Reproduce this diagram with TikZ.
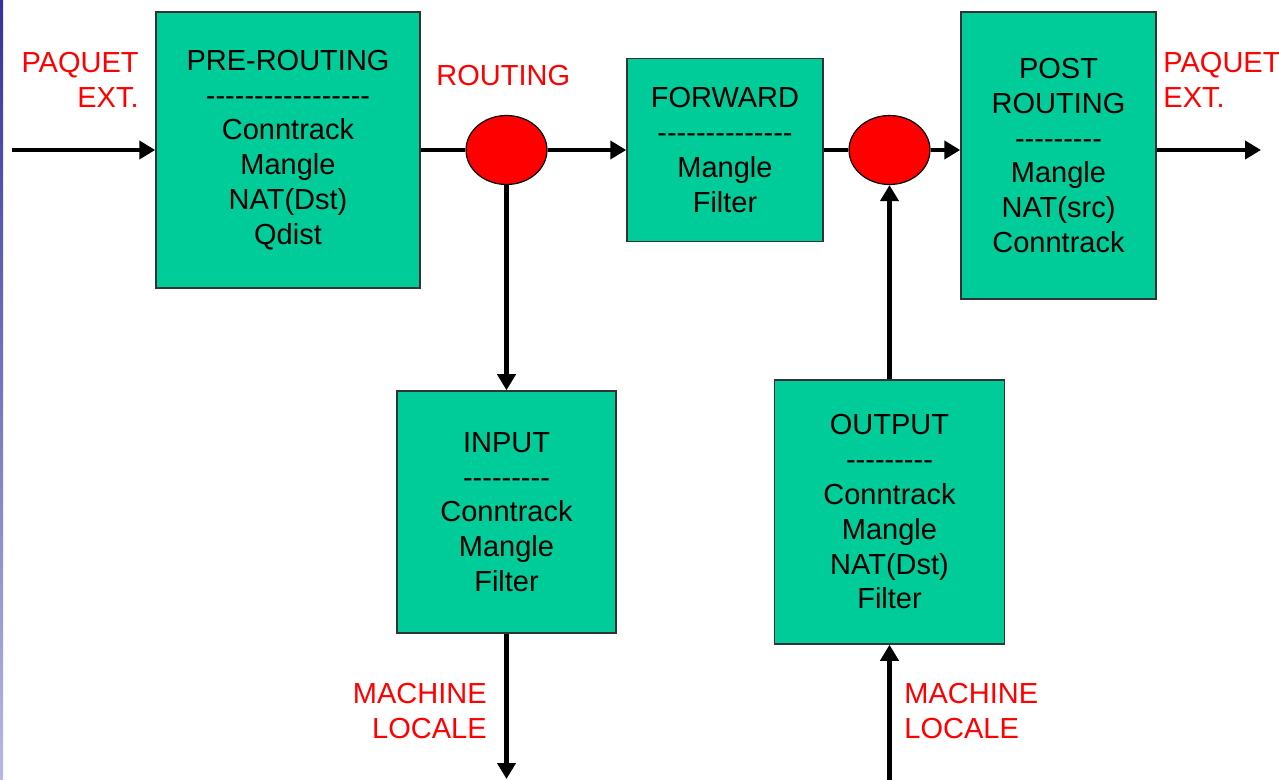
\documentclass[tikz,border=0pt]{standalone}
\usepackage{fontspec}
\setmainfont{Liberation Sans}
\usetikzlibrary{arrows.meta,shapes.geometric}
\definecolor{boxgreen}{HTML}{00CC99}
\definecolor{barblue}{HTML}{333399}
\definecolor{barlight}{HTML}{B8B8E6}
% a row of plain hyphens, kept apart so they do not merge into dashes
\newcommand\hyphenrow[1]{\count255=0 \loop -\kern0pt\advance\count255 by 1 \ifnum\count255<#1\repeat}
\begin{document}
\begin{tikzpicture}[x=0.5pt,y=-0.5pt,
  every node/.style={font=\fontsize{14.5}{17.4}\selectfont},
  chain/.style={draw=black!80,line width=0.75pt,fill=boxgreen,align=center,inner sep=0pt},
  hook/.style={ellipse,draw=black,line width=0.6pt,fill=red,minimum width=40.5pt,minimum height=34.5pt,inner sep=0pt},
  tag/.style={text=red,inner sep=0pt},
  flow/.style={line width=2.4pt,draw=black},
  flowarrow/.style={flow,-{Triangle[length=8pt,width=9pt]}}]
  \useasboundingbox (0,0) rectangle (1279,780);
  % thin slide rule on the left edge
  \shade[top color=barblue,bottom color=barlight] (0,0) rectangle (3,780);

  % netfilter chains
  \node[chain,minimum width=132pt,minimum height=138pt] (pre) at (288,150)
    {PRE-ROUTING\\\hyphenrow{17}\\Conntrack\\Mangle\\NAT(Dst)\\Qdist};
  \node[chain,minimum width=98pt,minimum height=91.5pt] (fwd) at (725,150)
    {FORWARD\\\hyphenrow{14}\\Mangle\\Filter};
  \node[chain,minimum width=97.5pt,minimum height=143.5pt] (post) at (1058.5,155.5)
    {POST\\ROUTING\\\hyphenrow{9}\\Mangle\\NAT(src)\\Conntrack};
  \node[chain,minimum width=109.5pt,minimum height=121pt] (in) at (506.5,512)
    {INPUT\\\hyphenrow{9}\\Conntrack\\Mangle\\Filter};
  \node[chain,minimum width=115pt,minimum height=132pt] (out) at (889.5,512)
    {OUTPUT\\\hyphenrow{9}\\Conntrack\\Mangle\\NAT(Dst)\\Filter};

  % routing decisions
  \node[hook] (r1) at (506.5,150) {};
  \node[hook] (r2) at (889.5,150) {};

  % labels
  \node[tag,align=right,anchor=north east] (pin) at (139,52) {PAQUET\\EXT.};
  \node[tag,anchor=north west] (rt) at (436,65) {ROUTING};
  \node[tag,align=left,anchor=north west] (pout) at (1163,52) {PAQUET\\EXT.};
  \node[tag,align=right,anchor=north east] (mloc1) at (487,683) {MACHINE\\LOCALE};
  \node[tag,align=left,anchor=north west] (mloc2) at (904,683) {MACHINE\\LOCALE};

  % free ends of the flow
  \coordinate (src) at (12,150);
  \coordinate (dst) at (1261,150);
  \coordinate (down) at (506.5,779);
  \coordinate (up) at (889.5,780);

  % packet flow
  \draw[flowarrow] (src) -- (pre.west |- src);
  \draw[flow] (pre.east |- r1) -- (r1.west);
  \draw[flowarrow] (r1.east) -- (fwd.west);
  \draw[flow] (fwd.east) -- (r2.west);
  \draw[flowarrow] (r2.east) -- (post.west |- r2);
  \draw[flowarrow] (post.east |- dst) -- (dst);
  \draw[flowarrow] (r1.south) -- (in.north);
  \draw[flowarrow] (in.south) -- (down);
  \draw[flowarrow] (up) -- (out.south);
  \draw[flowarrow] (out.north) -- (r2.south);
\end{tikzpicture}
\end{document}
